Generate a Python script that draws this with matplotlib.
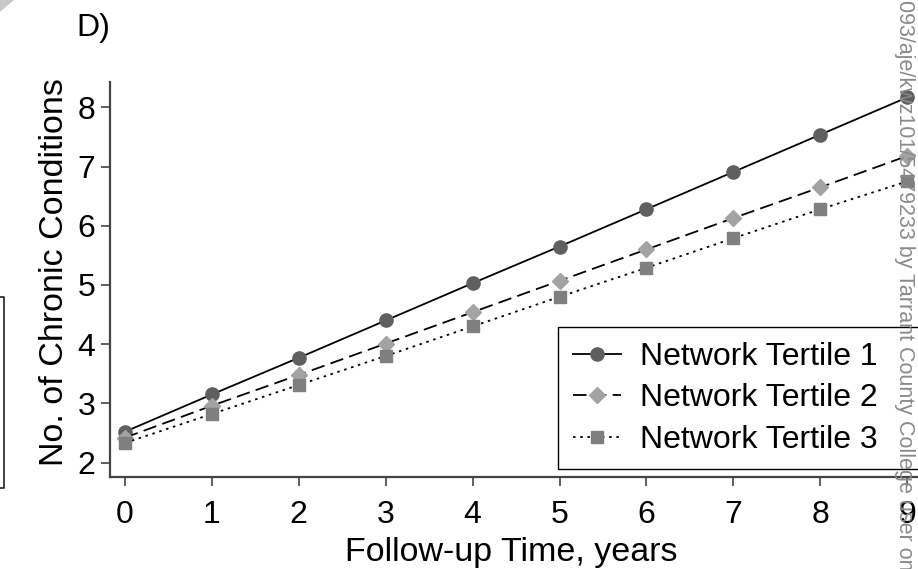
#!/usr/bin/env python3
"""Panel D: predicted number of chronic conditions over follow-up, by network tertile."""
import matplotlib
matplotlib.use('Agg')
import matplotlib.pyplot as plt
from matplotlib.lines import Line2D
from matplotlib.patches import Polygon

plt.rcParams['font.family'] = ['Liberation Sans', 'DejaVu Sans']

# follow-up years and predicted counts per tertile
years = [0, 1, 2, 3, 4, 5, 6, 7, 8, 9]
tertile1 = [2.52, 3.15, 3.77, 4.40, 5.03, 5.65, 6.28, 6.91, 7.54, 8.17]
tertile2 = [2.42, 2.96, 3.48, 4.01, 4.54, 5.07, 5.60, 6.13, 6.65, 7.18]
tertile3 = [2.33, 2.82, 3.31, 3.80, 4.30, 4.80, 5.29, 5.79, 6.28, 6.75]
series_labels = ['Network Tertile 1', 'Network Tertile 2', 'Network Tertile 3']
yticks = [2, 3, 4, 5, 6, 7, 8]

W, H = 918, 569
FS = 23
LABEL_FS = 24.5
AXIS_GREY = '#444444'

fig = plt.figure(figsize=(W / 100, H / 100), dpi=100)
# plot region runs a bit past the right edge of the figure
ax = fig.add_axes([110 / W, (H - 477) / H, (935 - 110) / W, (477 - 82) / H])

ax.plot(years, tertile1, color='black', lw=1.3, ls='-',
        marker='o', ms=9.5, mfc='#5f5f5f', mec='#5f5f5f', label=series_labels[0])
ax.plot(years, tertile2, color='black', lw=1.3, ls=(0, (7.5, 3.5)),
        marker='D', ms=8, mfc='#a3a3a3', mec='#a3a3a3', label=series_labels[1])
ax.plot(years, tertile3, color='black', lw=1.3, ls=(0, (1.4, 2.6)),
        marker='s', ms=9, mfc='#7f7f7f', mec='#7f7f7f', label=series_labels[2])

ax.set_xlim(-0.172, 9.32)
ax.set_ylim(1.755, 8.43)
ax.set_xticks(years)
ax.set_yticks(yticks)
ax.tick_params(axis='both', labelsize=FS, length=6.5, width=1.2, color=AXIS_GREY)
ax.tick_params(axis='y', pad=4)
ax.tick_params(axis='x', pad=10)
for side in ('top', 'right'):
    ax.spines[side].set_visible(False)
for side in ('left', 'bottom'):
    ax.spines[side].set_color(AXIS_GREY)
    ax.spines[side].set_linewidth(1.6)

leg = ax.legend(loc='upper left', mode='expand', fontsize=FS,
                bbox_to_anchor=(558 / W, (H - 465) / H, (1000 - 558) / W, (465 - 327) / H),
                bbox_transform=fig.transFigure, borderaxespad=0,
                handlelength=1.5, handletextpad=0.6, labelspacing=0.36,
                borderpad=0.46, numpoints=1, fancybox=False, framealpha=1)
leg.get_frame().set_edgecolor('black')
leg.get_frame().set_linewidth(1.0)

fig.text(55 / W, 1 - 272 / H, 'No. of Chronic Conditions', rotation=90,
         ha='center', va='center', fontsize=LABEL_FS)
fig.text(511 / W, 1 - 553 / H, 'Follow-up Time, years',
         ha='center', va='center', fontsize=LABEL_FS)
fig.text(93 / W, 1 - 28 / H, 'D)', ha='center', va='center', fontsize=FS)

# download stamp running down the right margin
fig.text(905 / W, 1.0, '093/aje/kwz101/5479233 by Tarrant County College user on',
         rotation=-90, ha='center', va='top', fontsize=15.5, color='#8a8a8a')

# neighbouring panel edge and page corner
fig.add_artist(Line2D([0, 4 / W, 4 / W, 0],
                      [1 - 297 / H, 1 - 297 / H, 1 - 488 / H, 1 - 488 / H],
                      transform=fig.transFigure, color='#222222', lw=1.2))
fig.add_artist(Polygon([[0, 1], [14 / W, 1], [0, 1 - 12 / H]], closed=True,
                       transform=fig.transFigure, color='#c8c8c8', lw=0))

fig.savefig('out.png', dpi=100)
